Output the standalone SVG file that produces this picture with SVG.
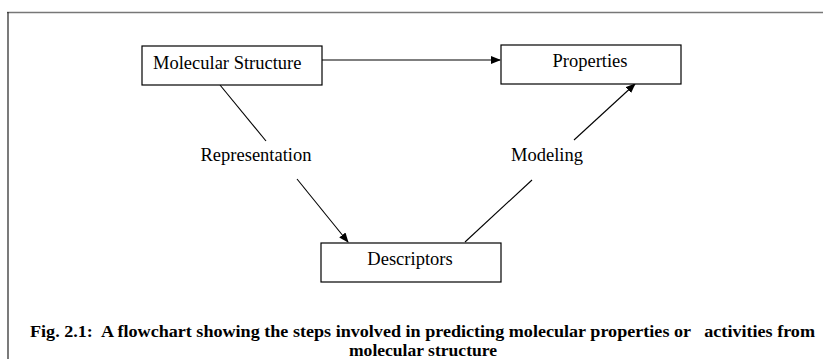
<svg xmlns="http://www.w3.org/2000/svg" width="823" height="359" viewBox="0 0 823 359">
<style>
.box{fill:#fff;stroke:#000;stroke-width:1.2}
.t{font-family:"Liberation Serif","Times New Roman",serif;font-size:18.5px;fill:#000}
.cap{font-family:"Liberation Serif","Times New Roman",serif;font-size:16.5px;font-weight:bold;fill:#000;white-space:pre}
.ln{stroke:#000;stroke-width:1.1;fill:none}
</style>
<defs>
<marker id="ah" markerWidth="10" markerHeight="8" refX="9" refY="4" orient="auto" markerUnits="userSpaceOnUse">
<path d="M0,0 L10,4 L0,8 Z" fill="#000"/>
</marker>
</defs>
<rect width="823" height="359" fill="#fff"/>
<g id="frame">
<line x1="7" y1="12.5" x2="823" y2="12.5" stroke="#777" stroke-width="1.5"/>
<line x1="8" y1="12" x2="8" y2="359" stroke="#222" stroke-width="1.2"/>
</g>
<g id="connectors">
<line class="ln" x1="322" y1="60" x2="500" y2="60" marker-end="url(#ah)"/>
<line class="ln" x1="220" y1="85" x2="266" y2="141"/>
<line class="ln" x1="297" y1="179" x2="348" y2="242" marker-end="url(#ah)"/>
<line class="ln" x1="465" y1="242" x2="532" y2="180"/>
<line class="ln" x1="574" y1="140" x2="635" y2="84" marker-end="url(#ah)"/>
</g>
<g id="node-molecular-structure">
<rect class="box" x="142" y="46" width="180" height="39"/>
<text class="t" x="153" y="69">Molecular Structure</text>
</g>
<g id="node-properties">
<rect class="box" x="501" y="45" width="180" height="39"/>
<text class="t" x="590" y="67" text-anchor="middle">Properties</text>
</g>
<g id="node-descriptors">
<rect class="box" x="321" y="243" width="180" height="39"/>
<text class="t" x="410" y="265" text-anchor="middle">Descriptors</text>
</g>
<g id="labels">
<text class="t" x="256" y="161" text-anchor="middle">Representation</text>
<text class="t" x="547" y="161" text-anchor="middle">Modeling</text>
</g>
<g id="caption">
<text class="cap" x="30" y="337" textLength="785" lengthAdjust="spacingAndGlyphs">Fig. 2.1:  A flowchart showing the steps involved in predicting molecular properties or   activities from</text>
<text class="cap" x="423" y="356" text-anchor="middle" textLength="148" lengthAdjust="spacingAndGlyphs">molecular structure</text>
</g>
</svg>
